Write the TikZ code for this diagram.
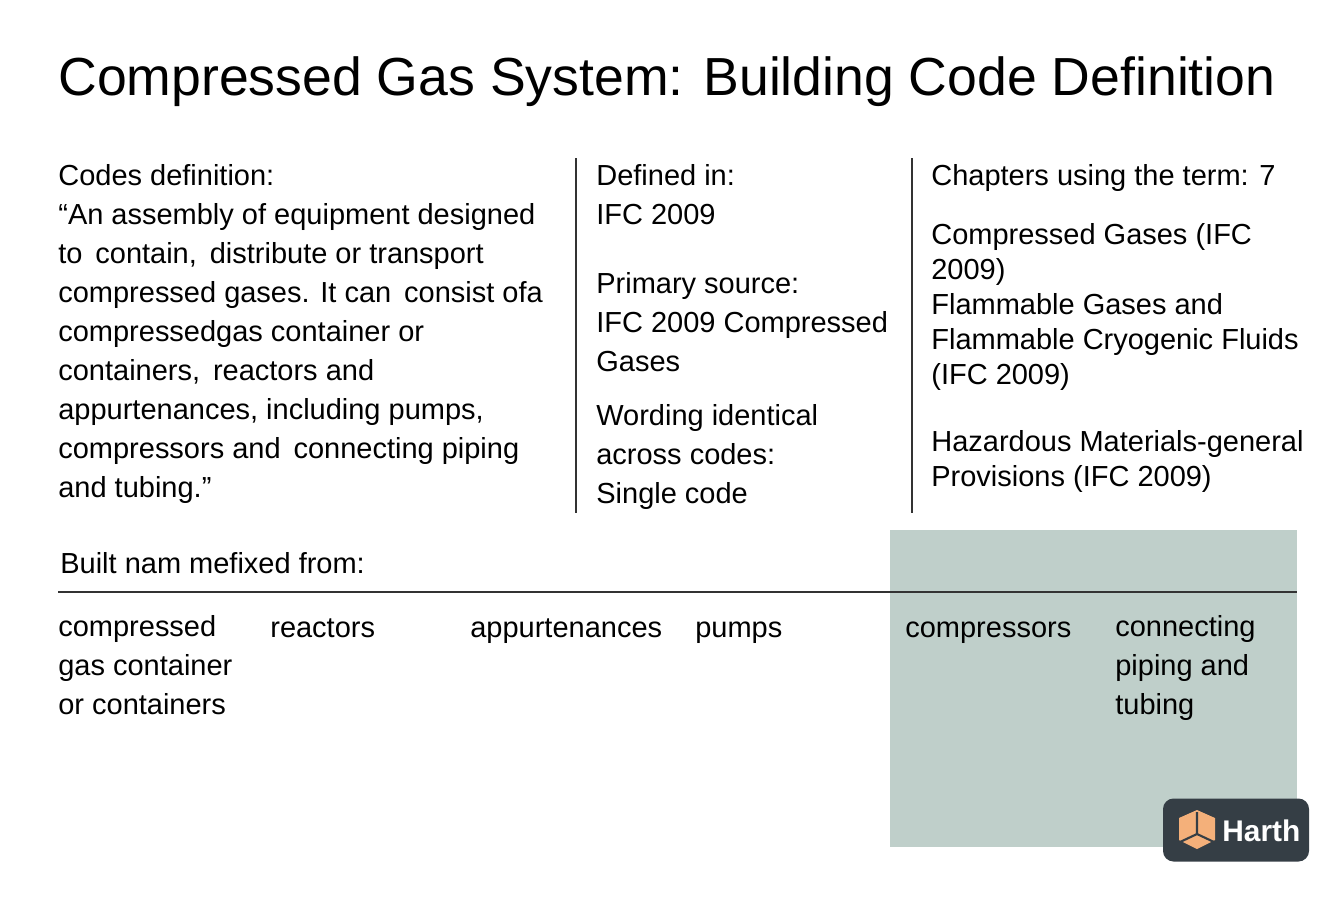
\documentclass[tikz,border=0pt]{standalone}
\usepackage{fontspec}
\setmainfont{Liberation Sans}
\usetikzlibrary{positioning}
\definecolor{panelgreen}{HTML}{BFCFCA}
\definecolor{logobg}{HTML}{353E45}
\definecolor{cube}{HTML}{F4B07A}
\tikzset{txt/.style={anchor=north west, inner sep=0pt, align=left, font=\fontsize{16.5}{22.2}\selectfont, execute at begin node=\strut}}
\tikzset{tight/.style={font=\fontsize{16.5}{20}\selectfont}}
\tikzset{rule/.style={draw=black!80, line width=0.7pt}}
\begin{document}
\begin{tikzpicture}[x=0.02cm, y=-0.02cm]
\useasboundingbox (0,0) rectangle (1344,896);

% shaded panel and rules
\fill[panelgreen] (890,530) rectangle (1297,847);
\coordinate (d1t) at (576,158); \coordinate (d1b) at (576,513);
\coordinate (d2t) at (912,158); \coordinate (d2b) at (912,513);
\coordinate (hl) at (58,592); \coordinate (hr) at (1297,592);
\draw[rule] (d1t) -- (d1b);
\draw[rule] (d2t) -- (d2b);
\draw[rule] (hl) -- (hr);

% title
\node[anchor=west, inner sep=0pt, font=\fontsize{30.5}{36}\selectfont] (title) at (58,82) {Compressed Gas System: Building Code Definition};

% left column
\node[txt] (codes) at (58,164) {Codes definition:\\
\textquotedblleft An assembly of equipment designed\\
to\, contain,\, distribute or transport\\
compressed gases. It can\, consist ofa\\
compressedgas container or\\
containers,\, reactors and\\
appurtenances, including pumps,\\
compressors and\, connecting piping\\
and tubing.\textquotedblright};

% middle column
\node[txt] (defined) at (596,164) {Defined in:\\IFC 2009};
\node[txt] (primary) at (596,272) {Primary source:\\IFC 2009 Compressed\\Gases};
\node[txt] (wording) at (596,404) {Wording identical\\across codes:\\Single code};

% right column
\node[txt] (chapters) at (931,158) {Chapters using the term: 7};
\node[txt, tight] (comp) at (931,223) {Compressed Gases (IFC\\2009)\\Flammable Gases and\\Flammable Cryogenic Fluids\\(IFC 2009)};
\node[txt, tight] (hazard) at (931,430) {Hazardous Materials-general\\Provisions (IFC 2009)};

% built from
\node[txt] (built) at (60,546) {Built nam mefixed from:};
\node[txt] (t1) at (58,615) {compressed\\gas container\\or containers};
\node[txt] (t2) at (270,610) {reactors};
\node[txt] (t3) at (470,610) {appurtenances};
\node[txt] (t4) at (695,610) {pumps};
\node[txt] (t5) at (905,610) {compressors};
\node[txt] (t6) at (1115,615) {connecting\\piping and\\tubing};

% logo
\node[fill=logobg, rounded corners=6pt, minimum width=146*0.02cm, minimum height=63*0.02cm, inner sep=0pt] (logo) at (1236,830) {};
\fill[cube] (1197,810) -- (1215,818) -- (1215,840) -- (1197,849) -- (1179,840) -- (1179,818) -- cycle;
\draw[logobg, line width=1.2pt] (1197,812) -- (1197,834) -- (1180,842) (1197,834) -- (1214,842);
\node[anchor=west, inner sep=0pt, text=white, font=\fontsize{17}{20}\selectfont\bfseries] (harth) at (1222,831) {Harth};
\end{tikzpicture}
\end{document}
